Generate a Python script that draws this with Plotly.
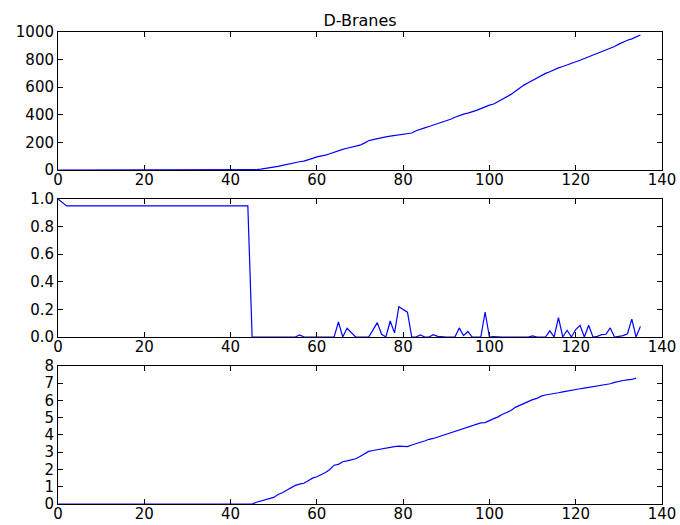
import plotly.graph_objects as go

# Step indices for the three traces
x_count = list(range(0, 136))
x_ratio = list(range(0, 136))
x_size = list(range(0, 135))

# Cumulative count of branes (zero before step 45)
count_tail = [0, 3, 7, 11, 15, 20, 26, 33, 41, 46, 53, 60, 65, 72, 84, 95, 100, 108, 118, 130,
              140, 150, 158, 165, 172, 180, 195, 212, 220, 228, 233, 240, 245, 250, 254, 258,
              260, 268, 285, 297, 305, 315, 325, 335, 345, 355, 368, 382, 395, 405, 412, 420,
              432, 445, 458, 470, 478, 495, 512, 530, 548, 570, 595, 615, 632, 650, 666, 680,
              700, 712, 728, 740, 750, 760, 775, 785, 795, 808, 820, 832, 845, 858, 870, 882,
              895, 912, 928, 940, 950, 962, 978]
count = [0] * 45 + count_tail

# Acceptance ratio per step
ratio_head = [1.0, 0.975] + [0.95] * 43
ratio_tail = [0, 0, 0, 0, 0, 0, 0, 0, 0, 0, 0, 0.015, 0, 0, 0, 0, 0, 0, 0, 0,
              0.11, 0, 0.063, 0.03, 0, 0, 0, 0, 0.05, 0.104, 0.02, 0, 0.116, 0.03, 0.22, 0.20,
              0.18, 0, 0, 0.015, 0, 0, 0.017, 0.005, 0, 0, 0, 0, 0.066, 0.01, 0.04, 0, 0, 0,
              0.18, 0, 0.003, 0, 0, 0, 0, 0, 0, 0, 0, 0.008, 0, 0, 0, 0.045, 0, 0.14, 0, 0.049,
              0, 0.054, 0.085, 0, 0.085, 0, 0.005, 0.017, 0.02, 0.066, 0, 0.005, 0.01, 0.024,
              0.13, 0, 0.077]
ratio = ratio_head + ratio_tail

# Mean size per step
size_tail = [0, 0.1, 0.18, 0.25, 0.32, 0.38, 0.55, 0.65, 0.8, 0.95, 1.08, 1.15, 1.2, 1.35,
             1.5, 1.58, 1.68, 1.82, 2.0, 2.25, 2.3, 2.45, 2.5, 2.55, 2.62, 2.75, 2.92, 3.05,
             3.1, 3.15, 3.2, 3.25, 3.3, 3.33, 3.35, 3.35, 3.33, 3.42, 3.52, 3.58, 3.65, 3.75,
             3.8, 3.88, 3.95, 4.03, 4.1, 4.22, 4.3, 4.35, 4.42, 4.52, 4.6, 4.7, 4.72, 4.85,
             4.95, 5.05, 5.2, 5.3, 5.42, 5.6, 5.72, 5.85, 5.95, 6.05, 6.12, 6.25, 6.32, 6.35,
             6.42, 6.45, 6.5, 6.55, 6.62, 6.65, 6.68, 6.72, 6.76, 6.8, 6.85, 6.9, 6.93, 6.97,
             7.05, 7.12, 7.16, 7.2, 7.22, 7.3]
size = [0] * 45 + size_tail

x_ticks = [0, 20, 40, 60, 80, 100, 120, 140]

LINE = dict(color="#0000ff", width=1.2)
FONT = dict(family="DejaVu Sans", size=15, color="black")

fig = go.Figure()
fig.add_trace(go.Scatter(x=x_count, y=count, mode="lines", line=LINE, xaxis="x", yaxis="y"))
fig.add_trace(go.Scatter(x=x_ratio, y=ratio, mode="lines", line=LINE, xaxis="x2", yaxis="y2"))
fig.add_trace(go.Scatter(x=x_size, y=size, mode="lines", line=LINE, xaxis="x3", yaxis="y3"))

axis_common = dict(showline=True, linecolor="black", linewidth=1, mirror="ticks",
                   ticks="inside", ticklen=5, tickcolor="black", showgrid=False,
                   zeroline=False, tickfont=FONT, automargin=False)

domains = {"": [0.7076, 1.0], "2": [0.3538, 0.6462], "3": [0.0, 0.2924]}
y_specs = {"": dict(range=[0, 1000], tickvals=[0, 200, 400, 600, 800, 1000]),
           "2": dict(range=[0, 1], tickvals=[0, 0.2, 0.4, 0.6, 0.8, 1.0], tickformat=".1f"),
           "3": dict(range=[0, 8], tickvals=list(range(0, 9)))}

layout = dict(
    width=680, height=525,
    margin=dict(l=58, r=18, t=32, b=21, autoexpand=False),
    paper_bgcolor="white", plot_bgcolor="white",
    showlegend=False,
    title=dict(text="D-Branes", x=0.5, xref="paper", xanchor="center",
               y=1 - 20 / 525, yanchor="middle",
               font=dict(family="DejaVu Sans", size=16, color="black")),
)
for k, dom in domains.items():
    layout["xaxis" + k] = dict(axis_common, range=[0, 140], tickvals=x_ticks,
                               anchor="y" + k, domain=[0, 1], ticklabelstandoff=-4)
    layout["yaxis" + k] = dict(axis_common, domain=dom, anchor="x" + k, **y_specs[k])

fig.update_layout(**layout)
fig.write_html("out.html")
